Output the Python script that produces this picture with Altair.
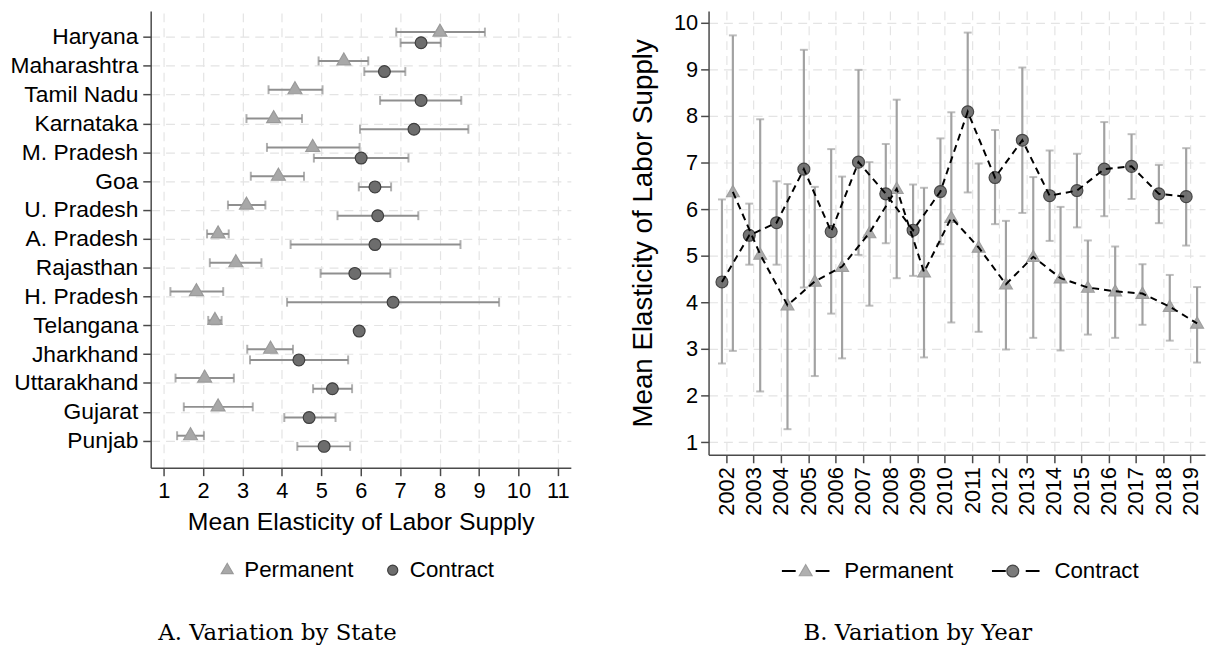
import altair as alt
import pandas as pd

# ---------------- data: panel A (by state) ----------------
states = ["Haryana", "Maharashtra", "Tamil Nadu", "Karnataka", "M. Pradesh", "Goa",
          "U. Pradesh", "A. Pradesh", "Rajasthan", "H. Pradesh", "Telangana",
          "Jharkhand", "Uttarakhand", "Gujarat", "Punjab"]
perm_mean = [8.01, 5.57, 4.33, 3.79, 4.78, 3.91, 3.10, 2.38, 2.83, 1.83, 2.30, 3.71, 2.04, 2.38, 1.68]
perm_lo   = [6.90, 4.93, 3.66, 3.10, 3.62, 3.21, 2.63, 2.10, 2.17, 1.17, 2.13, 3.12, 1.30, 1.51, 1.34]
perm_hi   = [9.15, 6.19, 5.03, 4.51, 5.97, 4.56, 3.58, 2.65, 3.48, 2.51, 2.47, 4.28, 2.78, 3.26, 2.02]
cont_mean = [7.53, 6.60, 7.53, 7.35, 6.01, 6.36, 6.43, 6.36, 5.85, 6.82, 5.96, 4.43, 5.28, 4.69, 5.07]
cont_lo   = [7.01, 6.09, 6.49, 5.98, 4.81, 5.95, 5.41, 4.22, 4.98, 4.13, 5.88, 3.19, 4.79, 4.06, 4.39]
cont_hi   = [8.03, 7.13, 8.55, 8.73, 7.21, 6.77, 7.46, 8.53, 6.75, 9.51, 6.05, 5.68, 5.78, 5.36, 5.73]

# ---------------- data: panel B (by year) ----------------
years = list(range(2002, 2020))
perm_y    = [6.37, 5.03, 3.94, 4.45, 4.77, 5.49, 6.44, 4.65, 5.82, 5.18, 4.39, 4.98, 4.52, 4.32, 4.24, 4.19, 3.91, 3.55]
perm_y_lo = [2.96, 2.09, 1.28, 2.42, 2.80, 3.93, 4.52, 2.82, 3.57, 3.37, 2.99, 3.24, 2.97, 3.31, 3.24, 3.52, 3.18, 2.71]
perm_y_hi = [9.73, 7.93, 6.54, 6.48, 6.70, 7.01, 8.35, 6.46, 8.08, 6.98, 5.75, 6.69, 6.05, 5.33, 5.20, 4.82, 4.59, 4.33]
cont_y    = [4.44, 5.44, 5.71, 6.86, 5.52, 7.01, 6.33, 5.55, 6.38, 8.09, 6.68, 7.48, 6.29, 6.40, 6.86, 6.92, 6.33, 6.27]
cont_y_lo = [2.69, 4.81, 4.81, 4.32, 3.76, 5.02, 5.27, 4.57, 5.25, 6.36, 5.68, 5.92, 5.32, 5.61, 5.85, 6.22, 5.70, 5.22]
cont_y_hi = [6.21, 6.12, 6.60, 9.42, 7.29, 8.99, 7.40, 6.53, 7.52, 9.79, 7.70, 9.04, 7.26, 7.19, 7.87, 7.61, 6.95, 7.31]

series_names = ["Permanent", "Contract"]
PERM, CONT = series_names

# ---------------- styles ----------------
FONT = "Liberation Sans"
TRI_FILL, TRI_STROKE = "#a8a8a8", "#9a9a9a"
CIR_FILL, CIR_STROKE = "#6d6d6d", "#3f3f3f"
EB_L, EB_R = "#8f8f8f", "#a2a2a2"
TRI_L = "M-1,0.58L0,-1.15L1,0.58Z"
CIR_L = "M-0.85,0A0.85,0.85 0 1,0 0.85,0A0.85,0.85 0 1,0 -0.85,0Z"
TRI_R = "M-0.27,0.2L0,-0.27L0.27,0.2Z"
CIR_R = "M-0.25,0A0.25,0.25 0 1,0 0.25,0A0.25,0.25 0 1,0 -0.25,0Z"
DASH_R = "M-1,0H-0.42M0.42,0H1"

# ---------------- tables ----------------
DODGE_P, DODGE_C = -0.17, 0.2
rows = []
for i, s in enumerate(states):
    rows.append(dict(state=s, pos=i + 1 + DODGE_P, grp=PERM, m=perm_mean[i], lo=perm_lo[i], hi=perm_hi[i]))
    rows.append(dict(state=s, pos=i + 1 + DODGE_C, grp=CONT, m=cont_mean[i], lo=cont_lo[i], hi=cont_hi[i]))
dl = pd.DataFrame(rows)

YOFF_P, YOFF_C = 0.24, -0.16
rows = []
for i, y in enumerate(years):
    rows.append(dict(year=y, xp=y + YOFF_P, series=PERM, marker=PERM, m=perm_y[i], lo=perm_y_lo[i], hi=perm_y_hi[i]))
    rows.append(dict(year=y, xp=y + YOFF_C, series=CONT, marker=CONT, m=cont_y[i], lo=cont_y_lo[i], hi=cont_y_hi[i]))
dr = pd.DataFrame(rows)

# ---------------- panel A ----------------
label_expr = "[" + ",".join("'%s'" % s for s in states) + "][datum.value - 1]"
xl_vals = list(range(1, 12))
yl_vals = list(range(1, len(states) + 1))
xl_scale = alt.Scale(domain=[0.67, 11.33], nice=False, zero=False)
yl_scale = alt.Scale(domain=[0.096, 15.94], nice=False, zero=False, reverse=True)
xl_axis = alt.Axis(values=xl_vals, tickCount=len(xl_vals), format="d", title="Mean Elasticity of Labor Supply",
                   labelFontSize=22, titleFontSize=25, tickSize=8, labelPadding=5, titlePadding=8,
                   labelOverlap=False)
yl_axis = alt.Axis(values=yl_vals, tickCount=len(yl_vals), labelExpr=label_expr, title=None,
                   labelFontSize=23, tickSize=8, labelPadding=5, labelOverlap=False)

leg_l = alt.Legend(title=None, orient="none", legendX=66, legendY=553, direction="horizontal",
                   columns=2, symbolSize=144, labelFontSize=22.5, labelFont=FONT, labelOffset=6,
                   columnPadding=28, padding=0, symbolStrokeWidth=1.2, labelColor="black")

baseL = alt.Chart(dl)
rule_l = baseL.mark_rule(color=EB_L, strokeWidth=2).encode(
    x=alt.X("lo:Q", scale=xl_scale, axis=xl_axis), x2="hi:Q",
    y=alt.Y("pos:Q", scale=yl_scale, axis=yl_axis))
cap_lo_l = baseL.mark_tick(orient="vertical", size=9, thickness=2, color=EB_L).encode(x="lo:Q", y="pos:Q")
cap_hi_l = baseL.mark_tick(orient="vertical", size=9, thickness=2, color=EB_L).encode(x="hi:Q", y="pos:Q")
pts_l = baseL.mark_point(filled=True, size=196, opacity=1, strokeWidth=1.2).encode(
    x="m:Q", y="pos:Q",
    shape=alt.Shape("grp:N", scale=alt.Scale(domain=series_names, range=[TRI_L, CIR_L]), legend=leg_l),
    fill=alt.Fill("grp:N", scale=alt.Scale(domain=series_names, range=[TRI_FILL, CIR_FILL]), legend=leg_l),
    stroke=alt.Stroke("grp:N", scale=alt.Scale(domain=series_names, range=[TRI_STROKE, CIR_STROKE]), legend=leg_l),
)
left = alt.layer(rule_l, cap_lo_l, cap_hi_l, pts_l).properties(
    width=424, height=461,
    title=alt.TitleParams("A. Variation by State", orient="bottom", anchor="middle", frame="bounds",
                          offset=41, dx=-13))

# ---------------- panel B ----------------
yr_vals = list(range(1, 11))
xr_scale = alt.Scale(domain=[2001.35, 2019.53], nice=False, zero=False)
yr_scale = alt.Scale(domain=[0.73, 10.255], nice=False, zero=False)
xr_axis = alt.Axis(values=years, tickCount=len(years), format="d", labelAngle=-90, title=None,
                   labelFontSize=22, tickSize=8, labelPadding=4, labelOverlap=False)
yr_axis = alt.Axis(values=yr_vals, tickCount=len(yr_vals), format="d", title="Mean Elasticity of Labor Supply",
                   labelFontSize=22, titleFontSize=28, tickSize=8, labelPadding=3, titlePadding=16,
                   labelOverlap=False)

leg_a = alt.Legend(title=None, orient="none", legendX=73, legendY=540, direction="horizontal",
                   columns=2, symbolType=DASH_R, symbolSize=2304, symbolStrokeWidth=2,
                   labelFontSize=22.5, labelFont=FONT, labelOffset=14, columnPadding=34, padding=0,
                   labelColor="black")
leg_b = alt.Legend(title=None, orient="none", legendX=73, legendY=540, direction="horizontal",
                   columns=2, symbolSize=2304, symbolStrokeWidth=1.2,
                   labelFontSize=22.5, labelFont=FONT, labelOffset=14, columnPadding=34, padding=0,
                   labelOpacity=0)

baseR = alt.Chart(dr)
rule_r = baseR.mark_rule(color=EB_R, strokeWidth=2.2).encode(
    x=alt.X("xp:Q", scale=xr_scale, axis=xr_axis),
    y=alt.Y("lo:Q", scale=yr_scale, axis=yr_axis), y2="hi:Q")
cap_lo_r = baseR.mark_tick(orient="horizontal", size=8, thickness=2, color=EB_R).encode(x="xp:Q", y="lo:Q")
cap_hi_r = baseR.mark_tick(orient="horizontal", size=8, thickness=2, color=EB_R).encode(x="xp:Q", y="hi:Q")
pts_r = baseR.mark_point(filled=True, size=2304, opacity=0.95, strokeWidth=1.2).encode(
    x="xp:Q", y="m:Q",
    shape=alt.Shape("marker:N", scale=alt.Scale(domain=series_names, range=[TRI_R, CIR_R]), legend=leg_b),
    fill=alt.Fill("marker:N", scale=alt.Scale(domain=series_names, range=[TRI_FILL, CIR_FILL]), legend=leg_b),
    stroke=alt.Stroke("marker:N", scale=alt.Scale(domain=series_names, range=[TRI_STROKE, CIR_STROKE]), legend=leg_b),
)
line_r = baseR.mark_line(strokeWidth=2).encode(
    x="xp:Q", y="m:Q",
    color=alt.Color("series:N", sort=series_names, scale=alt.Scale(range=["black", "black"]), legend=leg_a),
    strokeDash=alt.StrokeDash("series:N", sort=series_names, scale=alt.Scale(range=[[7, 5], [7, 5]]), legend=None),
)
right = alt.layer(rule_r, cap_lo_r, cap_hi_r, pts_r, line_r).properties(
    width=501, height=448,
    title=alt.TitleParams("B. Variation by Year", orient="bottom", anchor="middle", frame="bounds",
                          offset=40))

chart = alt.hconcat(left, right, spacing=59).resolve_scale(
    x="independent", y="independent", shape="independent", fill="independent",
    stroke="independent", color="independent", strokeDash="independent"
).resolve_legend(
    shape="independent", fill="independent", stroke="independent", color="independent"
).properties(
    padding={"left": 1, "top": 0, "right": 0, "bottom": 0}
).configure_view(stroke=None).configure_axis(
    domainColor="#4a4a4a", domainWidth=1.5, tickColor="#4a4a4a", tickWidth=1.5,
    grid=True, gridColor="#e4e4e4", gridDash=[9, 6], gridWidth=1.2,
    labelColor="black", titleColor="black", labelFont=FONT, titleFont=FONT,
    titleFontWeight="normal"
).configure_title(
    font="DejaVu Serif", fontSize=23, fontWeight="normal", color="black"
)

chart.save("out.html", embed_options={"renderer": "svg", "actions": False})
